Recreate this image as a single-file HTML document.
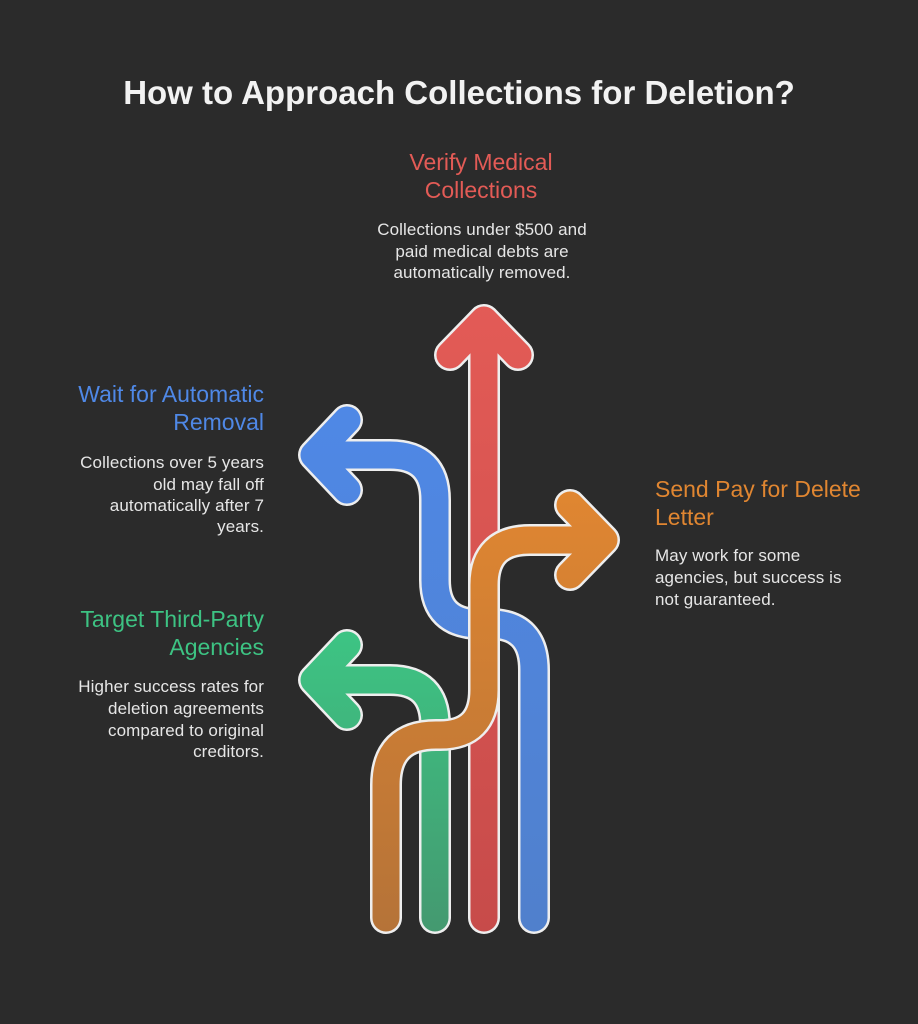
<!DOCTYPE html>
<html><head><meta charset="utf-8"><style>
body{margin:0;background:#2b2b2b;}
svg{display:block}
text{font-family:"Liberation Sans",sans-serif;}
.d{fill:#e6e6e6;font-size:17px;letter-spacing:0.1px}
.h{font-size:23px}
</style></head><body>
<svg width="918" height="1024" viewBox="0 0 918 1024">
<defs>
<linearGradient id="gr" gradientUnits="userSpaceOnUse" x1="0" y1="300" x2="0" y2="932"><stop offset="0" stop-color="#e35b56"/><stop offset="1" stop-color="#c74b4a"/></linearGradient>
<linearGradient id="gb" gradientUnits="userSpaceOnUse" x1="0" y1="400" x2="0" y2="932"><stop offset="0" stop-color="#4f88e6"/><stop offset="1" stop-color="#5080cc"/></linearGradient>
<linearGradient id="gg" gradientUnits="userSpaceOnUse" x1="0" y1="640" x2="0" y2="932"><stop offset="0" stop-color="#3dc383"/><stop offset="1" stop-color="#449970"/></linearGradient>
<linearGradient id="go" gradientUnits="userSpaceOnUse" x1="0" y1="490" x2="0" y2="932"><stop offset="0" stop-color="#e08631"/><stop offset="1" stop-color="#b57338"/></linearGradient>
</defs>
<rect width="918" height="1024" fill="#2b2b2b"/>
<text x="459" y="104" text-anchor="middle" font-size="33" font-weight="bold" fill="#f2f2f2">How to Approach Collections for Deletion?</text>

<g fill="none" stroke-linecap="round" stroke-linejoin="round">
<g>
<path d="M435,918 V725 Q435,680 390,680 H320 M347,645 L314,680 L347,715" stroke="#eee" stroke-width="32"/>
<path d="M435,918 V725 Q435,680 390,680 H320 M347,645 L314,680 L347,715" stroke="url(#gg)" stroke-width="27"/>
</g>
<g>
<path d="M484,918 V322 M450,355 L484,320 L518,355" stroke="#eee" stroke-width="32"/>
<path d="M484,918 V322 M450,355 L484,320 L518,355" stroke="url(#gr)" stroke-width="27"/>
</g>
<g>
<path d="M534,918 V670 Q534,624 490,624 H480 Q435,624 435,580 V500 Q435,455 390,455 H320 M347,420 L314,455 L347,490" stroke="#eee" stroke-width="32"/>
<path d="M534,918 V670 Q534,624 490,624 H480 Q435,624 435,580 V500 Q435,455 390,455 H320 M347,420 L314,455 L347,490" stroke="url(#gb)" stroke-width="27"/>
</g>
<g>
<path d="M386,918 V785 Q386,735 436,735 H440 Q484,735 484,690 V585 Q484,540 530,540 H600 M570,505 L604,540 L570,575" stroke="#eee" stroke-width="32"/>
<path d="M386,918 V785 Q386,735 436,735 H440 Q484,735 484,690 V585 Q484,540 530,540 H600 M570,505 L604,540 L570,575" stroke="url(#go)" stroke-width="27"/>
</g>
</g>

<g fill="#e35b56" text-anchor="middle"><text x="481" y="170" class="h">Verify Medical</text><text x="481" y="198" class="h">Collections</text></g>
<g class="d" text-anchor="middle"><text x="482" y="235">Collections under $500 and</text><text x="482" y="257">paid medical debts are</text><text x="482" y="278">automatically removed.</text></g>

<g fill="#4f88e6" text-anchor="end"><text x="264" y="402" class="h">Wait for Automatic</text><text x="264" y="430" class="h">Removal</text></g>
<g class="d" text-anchor="end"><text x="264" y="468">Collections over 5 years</text><text x="264" y="490">old may fall off</text><text x="264" y="511">automatically after 7</text><text x="264" y="532">years.</text></g>

<g fill="#e08631"><text x="655" y="497" class="h">Send Pay for Delete</text><text x="655" y="525" class="h">Letter</text></g>
<g class="d"><text x="655" y="561">May work for some</text><text x="655" y="583">agencies, but success is</text><text x="655" y="605">not guaranteed.</text></g>

<g fill="#3dc383" text-anchor="end"><text x="264" y="627" class="h">Target Third-Party</text><text x="264" y="655" class="h">Agencies</text></g>
<g class="d" text-anchor="end"><text x="264" y="692">Higher success rates for</text><text x="264" y="714">deletion agreements</text><text x="264" y="736">compared to original</text><text x="264" y="757">creditors.</text></g>
</svg>
</body></html>
